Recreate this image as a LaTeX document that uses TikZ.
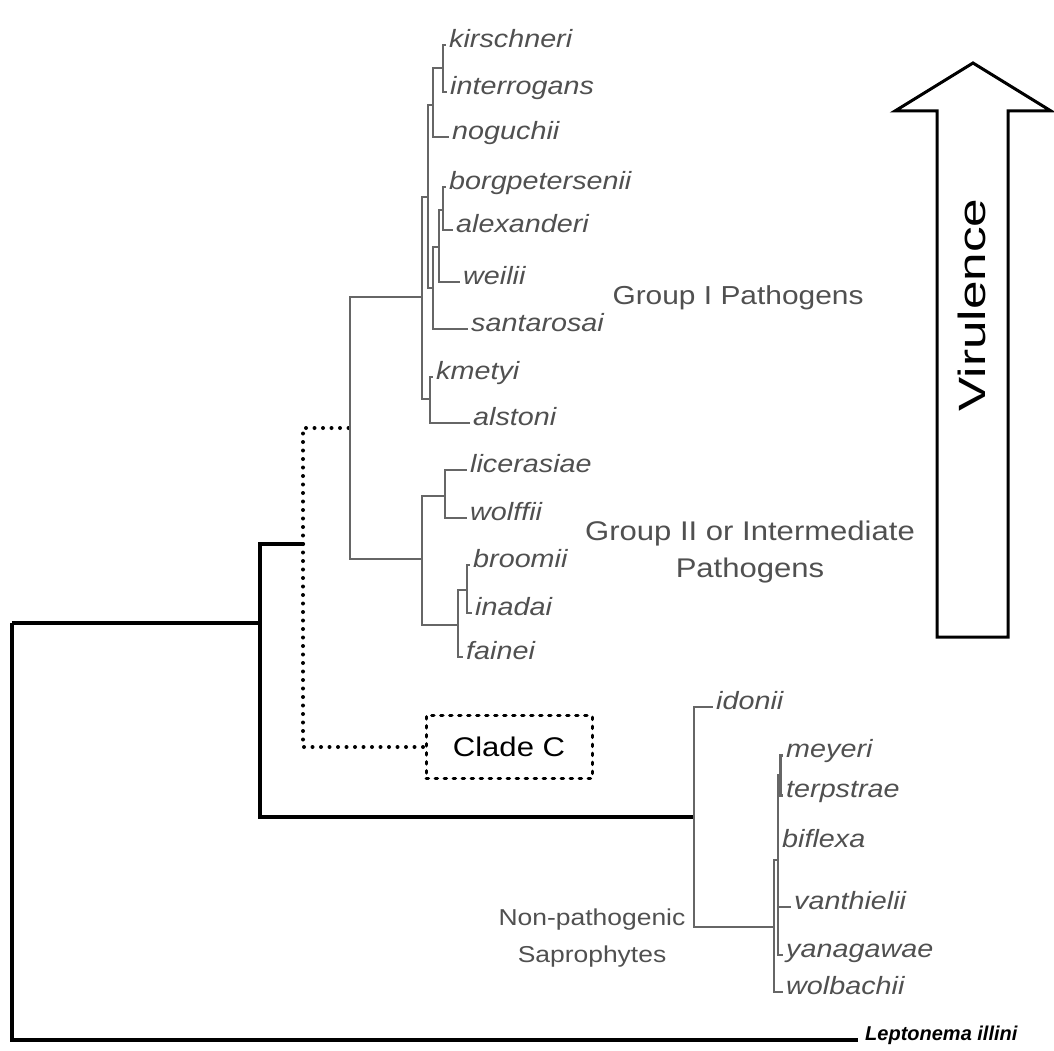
\documentclass[tikz,border=0pt]{standalone}
\usepackage{fontspec}
\setmainfont{Liberation Sans}
\newfontfamily\labfont[FakeStretch=1.15]{Liberation Sans}
\newfontfamily\arrowfont[FakeStretch=1.35]{Liberation Sans}
\usetikzlibrary{positioning}
\definecolor{leafgray}{HTML}{505050}
\definecolor{twiggray}{HTML}{666666}

\tikzset{
  species/.style={anchor=west, inner xsep=3pt, inner ysep=0pt, text height=0.72em, text depth=0.2em,
    text=leafgray, font=\labfont\fontsize{25}{28}\selectfont\itshape},
  grouplab/.style={align=center, text=leafgray},
  trunk/.style={line width=3.2pt, black},
  twig/.style={line width=2pt, twiggray},
  dotline/.style={line width=4pt, black, line cap=round, dash pattern=on 0pt off 8.5pt},
}

\begin{document}
\begin{tikzpicture}[x=1pt, y=-1pt]
    \useasboundingbox (0,0) rectangle (1054,1051);

    % inner nodes of the tree (where the incoming branch meets)
    \coordinate (root) at (12,623);
    \coordinate (n1) at (260,623);
    \coordinate (dn) at (303,544);
    \coordinate (pn) at (350,428);
    \coordinate (g1) at (422,297);
    \coordinate (ga) at (428,197);
    \coordinate (gt) at (433,105);
    \coordinate (gki) at (443,68);
    \coordinate (gb) at (433,288);
    \coordinate (gbaw) at (439,247);
    \coordinate (gba) at (443,210);
    \coordinate (gk) at (430,399);
    \coordinate (g2) at (422,559);
    \coordinate (glw) at (445,496);
    \coordinate (gbif) at (458,625);
    \coordinate (gbi) at (467,590);
    \coordinate (sn) at (694,817);
    \coordinate (s2) at (774,927);
    \coordinate (s3) at (778,860);
    \coordinate (smt) at (780,775);

    % leaves
    \node[species] (kirschneri) at (446,45) {kirschneri};
    \node[species] (interrogans) at (447,92) {interrogans};
    \node[species] (noguchii) at (449,137) {noguchii};
    \node[species] (borgpetersenii) at (446,187) {borgpetersenii};
    \node[species] (alexanderi) at (453,230) {alexanderi};
    \node[species] (weilii) at (460,282) {weilii};
    \node[species] (santarosai) at (468,329) {santarosai};
    \node[species] (kmetyi) at (433,377) {kmetyi};
    \node[species] (alstoni) at (470,423) {alstoni};
    \node[species] (licerasiae) at (467,470) {licerasiae};
    \node[species] (wolffii) at (467,518) {wolffii};
    \node[species] (broomii) at (470,565) {broomii};
    \node[species] (inadai) at (472,613) {inadai};
    \node[species] (fainei) at (463,657) {fainei};
    \node[species] (idonii) at (713,707) {idonii};
    \node[species] (meyeri) at (783,755) {meyeri};
    \node[species] (terpstrae) at (783,795) {terpstrae};
    \node[species] (biflexa) at (779,845) {biflexa};
    \node[species] (vanthielii) at (791,907) {vanthielii};
    \node[species] (yanagawae) at (783,955) {yanagawae};
    \node[species] (wolbachii) at (783,992) {wolbachii};
    \node[species, anchor=base west, inner xsep=7pt, text=black, font=\fontsize{20}{24}\selectfont\bfseries\itshape] (lept) at (858,1040) {Leptonema illini};

    \node[draw, line width=3pt, line cap=round, dash pattern=on 2.5pt off 6.5pt, minimum width=166pt, minimum height=63pt,
      font=\labfont\fontsize{27}{30}\selectfont] (cladec) at (509,747) {Clade C};

    % group labels
    \node[grouplab, font=\labfont\fontsize{26}{30}\selectfont] (grp1) at (738,298) {Group I Pathogens};
    \node[grouplab, font=\labfont\fontsize{27}{37}\selectfont] (grp2) at (750,552) {Group II or Intermediate\\Pathogens};
    \node[grouplab, font=\labfont\fontsize{23}{37}\selectfont] (sapro) at (592,938) {Non-pathogenic\\Saprophytes};

    % branches
    \draw[trunk] (root) |- (n1);
    \draw[trunk] (root) |- (lept.base west);
    \draw[trunk] (n1) |- (dn);
    \draw[trunk] (n1) |- (sn);
    \draw[dotline] (dn) |- (pn);
    \draw[dotline] (dn) |- (cladec.west);

    \draw[twig] (pn) |- (g1);
    \draw[twig] (pn) |- (g2);
    \draw[twig] (g1) |- (ga);
    \draw[twig] (g1) |- (gk);
    \draw[twig] (ga) |- (gt);
    \draw[twig] (ga) |- (gb);
    \draw[twig] (gt) |- (gki);
    \draw[twig] (gt) |- (noguchii.west);
    \draw[twig] (gki) |- (kirschneri.west);
    \draw[twig] (gki) |- (interrogans.west);
    \draw[twig] (gb) |- (gbaw);
    \draw[twig] (gb) |- (santarosai.west);
    \draw[twig] (gbaw) |- (gba);
    \draw[twig] (gbaw) |- (weilii.west);
    \draw[twig] (gba) |- (borgpetersenii.west);
    \draw[twig] (gba) |- (alexanderi.west);
    \draw[twig] (gk) |- (kmetyi.west);
    \draw[twig] (gk) |- (alstoni.west);
    \draw[twig] (g2) |- (glw);
    \draw[twig] (g2) |- (gbif);
    \draw[twig] (glw) |- (licerasiae.west);
    \draw[twig] (glw) |- (wolffii.west);
    \draw[twig] (gbif) |- (gbi);
    \draw[twig] (gbif) |- (fainei.west);
    \draw[twig] (gbi) |- (broomii.west);
    \draw[twig] (gbi) |- (inadai.west);

    \draw[twig] (sn) |- (idonii.west);
    \draw[twig] (sn) |- (s2);
    \draw[twig] (s2) |- (s3);
    \draw[twig] (s2) |- (wolbachii.west);
    \draw[twig] (s3) |- (smt);
    \draw[twig] (s3) |- (vanthielii.west);
    \draw[twig] (s3) |- (yanagawae.west);
    \draw[twig, line width=3pt] (smt) |- (meyeri.west);
    \draw[twig, line width=3pt] (smt) |- (terpstrae.west);

    % virulence arrow
    \draw[line width=3pt] (937,637) -- (937,111) -- (895,111) -- (973,63) -- (1051,111)
      -- (1008,111) -- (1008,637) -- cycle;
    \node[rotate=90, font=\arrowfont\fontsize{38}{40}\selectfont] (virulence) at (972,305) {Virulence};
\end{tikzpicture}
\end{document}
